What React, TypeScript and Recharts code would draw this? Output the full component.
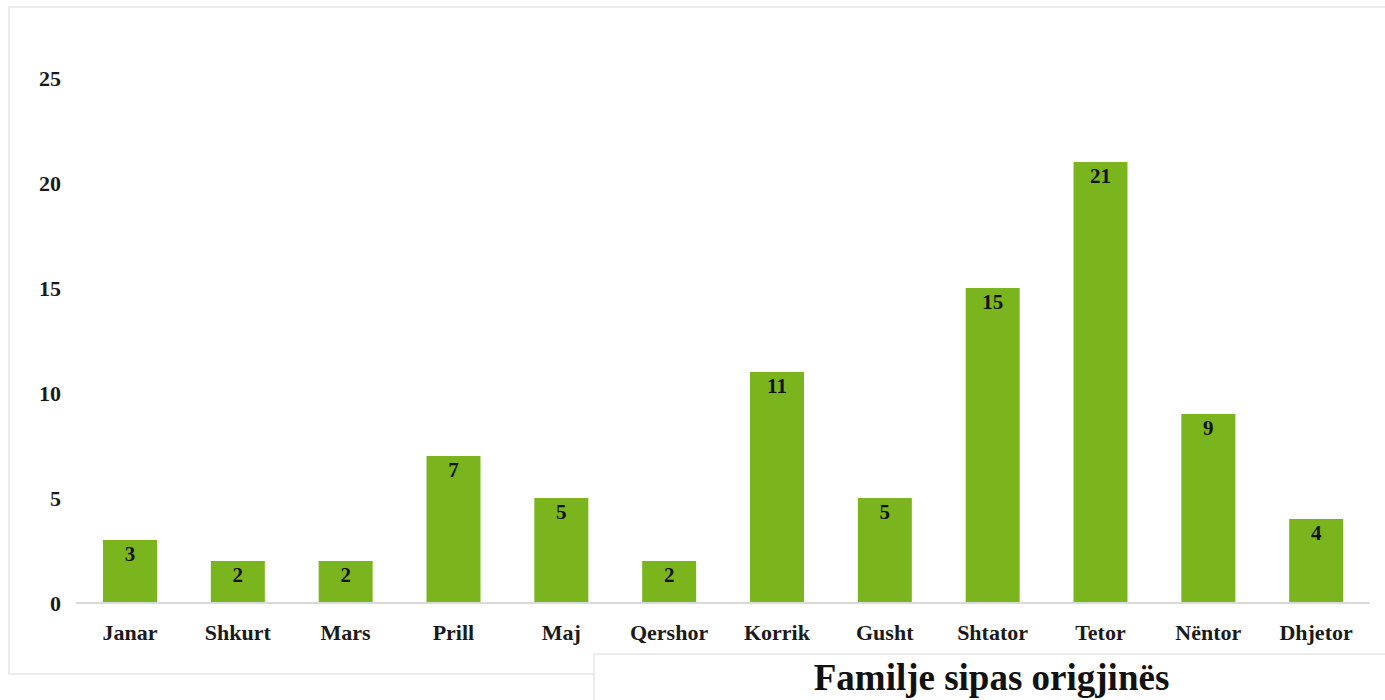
import { BarChart, Bar, XAxis, YAxis, LabelList } from 'recharts';

const months = ['Janar', 'Shkurt', 'Mars', 'Prill', 'Maj', 'Qershor', 'Korrik', 'Gusht', 'Shtator', 'Tetor', 'Nëntor', 'Dhjetor'];
const families = [3, 2, 2, 7, 5, 2, 11, 5, 15, 21, 9, 4];
const yTicks = [0, 5, 10, 15, 20, 25];
const caption = 'Familje sipas origjinës';

const data = months.map((m, i) => ({ month: m, value: families[i] }));

const serif = '"Liberation Serif", "DejaVu Serif", serif';

export default function App() {
  return (
    <div style={{ position: 'absolute', left: 0, top: 0, width: 1385, height: 700, background: '#fff', fontFamily: serif }}>
      <div
        style={{
          position: 'absolute',
          left: 8,
          top: 6,
          width: 1377,
          height: 669,
          borderTop: '2px solid #ececec',
          borderLeft: '2px solid #ececec',
          borderBottom: '2px solid #ececec',
          boxSizing: 'border-box',
        }}
      />
      <div style={{ position: 'absolute', left: 0, top: 0 }}>
        <BarChart width={1385} height={680} data={data} margin={{ top: 78, right: 15, left: 0, bottom: 47 }}>
          <XAxis
            dataKey="month"
            axisLine={{ stroke: '#d9d9d9', strokeWidth: 2 }}
            tickLine={false}
            tickSize={0}
            tickMargin={21}
            interval={0}
            height={30}
            tick={{ fontSize: 22, fontWeight: 'bold', fill: '#1a1a1a', fontFamily: serif }}
          />
          <YAxis
            domain={[0, 25]}
            ticks={yTicks}
            axisLine={false}
            tickLine={false}
            tickSize={0}
            tickMargin={15}
            width={76}
            tick={{ fontSize: 22, fontWeight: 'bold', fill: '#1a1a1a', fontFamily: serif }}
          />
          <Bar dataKey="value" fill="#7ab51d" barSize={54} isAnimationActive={false}>
            <LabelList
              dataKey="value"
              position="insideTop"
              offset={6}
              style={{ fontSize: 21, fontWeight: 'bold', fill: '#111', fontFamily: serif }}
            />
          </Bar>
        </BarChart>
      </div>
      <div
        style={{
          position: 'absolute',
          left: 593,
          top: 653,
          width: 792,
          height: 47,
          borderTop: '2px solid #ececec',
          borderLeft: '2px solid #ececec',
          boxSizing: 'border-box',
          background: '#fff',
          textAlign: 'center',
          fontWeight: 'bold',
          fontSize: 37,
          lineHeight: '46px',
          color: '#111',
          paddingLeft: 3,
        }}
      >
        {caption}
      </div>
    </div>
  );
}
